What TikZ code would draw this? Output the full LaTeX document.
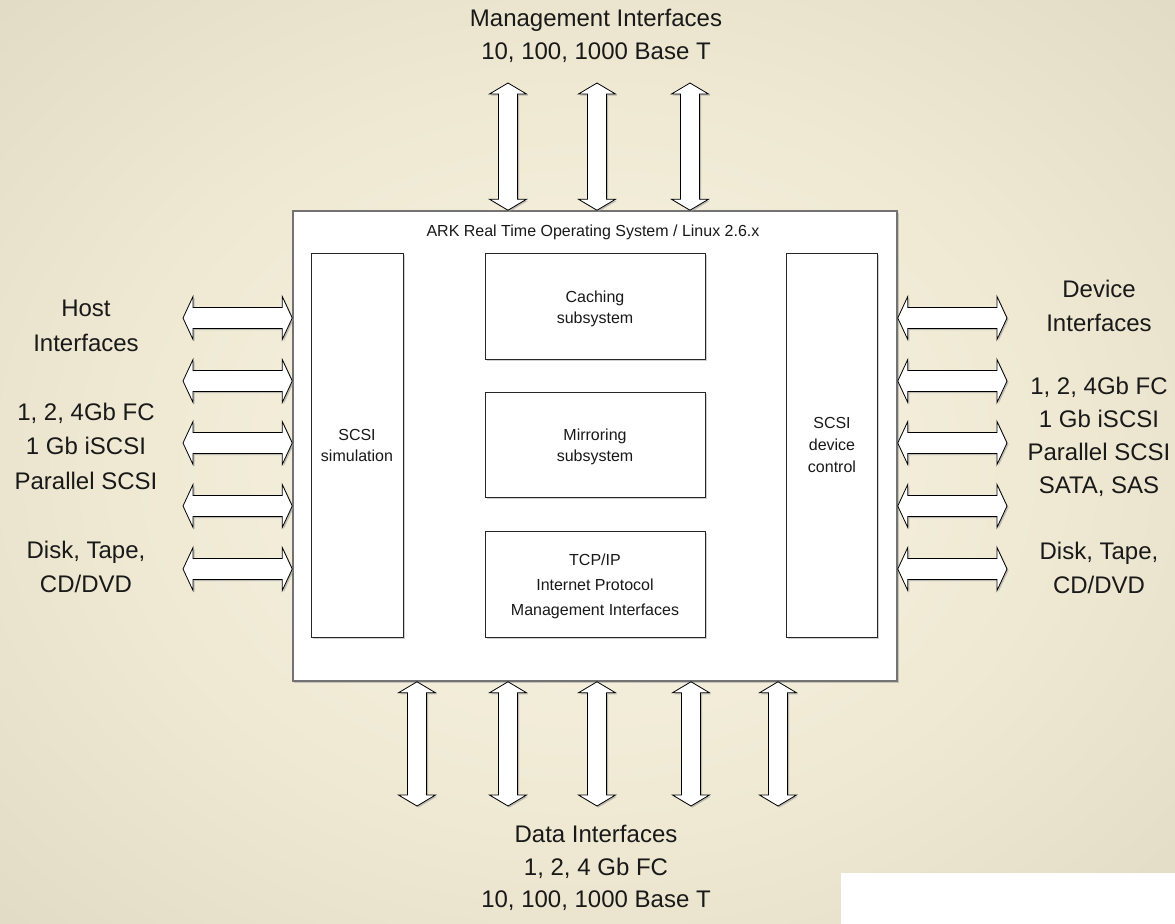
\documentclass[tikz,border=0pt]{standalone}
\usepackage{fontspec}
\setmainfont{Liberation Sans}
\usetikzlibrary{positioning, calc, shadows}

\definecolor{bgA}{RGB}{248,244,228}
\definecolor{bgB}{RGB}{239,233,211}
\definecolor{bgC}{RGB}{213,207,186}
\definecolor{bgD}{RGB}{180,175,153}
\pgfdeclareradialshading{bgglow}{\pgfpoint{0bp}{0bp}}{color(0bp)=(bgA); color(20bp)=(bgB); color(50bp)=(bgC); color(71bp)=(bgD)}

% block arrows: top tip -> bottom tip, left tip -> right tip
\newcommand{\vbus}[2]{%
  \draw[bus] let \p1=(#1), \p2=(#2) in
    (\p1) -- ++(18.5bp,-11bp) -- ++(-9bp,0bp) -- (\x1+9.5bp,\y2+11bp)
    -- ++(9bp,0bp) -- (\p2) -- ++(-18.5bp,11bp) -- ++(9bp,0bp)
    -- (\x1-9.5bp,\y1-11bp) -- ++(-9bp,0bp) -- cycle;}
\newcommand{\hbus}[2]{%
  \draw[bus] let \p1=(#1), \p2=(#2) in
    (\p1) -- ++(10bp,21.5bp) -- ++(0bp,-11bp) -- (\x2-10bp,\y1+10.5bp)
    -- ++(0bp,11bp) -- (\p2) -- ++(-10bp,-21.5bp) -- ++(0bp,11bp)
    -- (\x1+10bp,\y1-10.5bp) -- ++(0bp,-11bp) -- cycle;}

\begin{document}
\begin{tikzpicture}[
    x=1bp, y=-1bp,
    biglbl/.style={align=center, text=black!90,
                   font=\fontsize{24bp}{32.5bp}\selectfont},
    sidelbl/.style={biglbl, font=\fontsize{24bp}{34.5bp}\selectfont},
    smalltxt/.style={align=center, text=black!90,
                     font=\fontsize{16bp}{21bp}\selectfont},
    sysbox/.style={draw=black!55, line width=1.5bp, fill=white,
                   drop shadow={shadow xshift=1.5bp, shadow yshift=-1.5bp, fill=black!35, opacity=.6}},
    subbox/.style={smalltxt, draw=black!85, line width=0.9bp, fill=white, inner sep=0pt,
                   drop shadow={shadow xshift=1.5bp, shadow yshift=-1.5bp, fill=black!30, opacity=.6}},
    bus/.style={draw=black, fill=white, line width=0.8bp, line join=miter,
                drop shadow={shadow xshift=1.5bp, shadow yshift=-1.5bp, fill=black!40, opacity=.6}},
]
\useasboundingbox (0,0) rectangle (1175,924);
%% -- background --
\fill[shading=bgglow] (0,0) rectangle (1175,924);
\fill[white] (841,873) rectangle (1175,924);

%% -- System box and its parts --
\node[sysbox, minimum width=604bp, minimum height=470bp] (sys) at (595,446) {};
\node[smalltxt] (rtos) at (593,232) {ARK Real Time Operating System / Linux 2.6.x};
\node[subbox, minimum width=92bp, minimum height=384bp] (sim) at (357,445) {SCSI\\simulation};
\node[subbox, minimum width=91bp, minimum height=384bp,
      font=\fontsize{16bp}{22bp}\selectfont] (dev) at (832,445) {SCSI\\device\\control};
\node[subbox, minimum width=220bp, minimum height=106bp] (cache) at (595,306) {\rule{0pt}{17bp}Caching\\subsystem};
\node[subbox, minimum width=220bp, minimum height=105bp] (mirror) at (595,444.5) {\rule{0pt}{17bp}Mirroring\\subsystem};
\node[subbox, minimum width=220bp, minimum height=106bp,
      font=\fontsize{16bp}{25bp}\selectfont] (tcp) at (595,584) {\rule{0pt}{17bp}TCP/IP\\Internet Protocol\\Management Interfaces};

%% -- Labels outside --
\node[biglbl] (mgmt) at (596,36) {Management Interfaces\\10, 100, 1000 Base T};
\node[biglbl] (data) at (596,868) {Data Interfaces\\1, 2, 4 Gb FC\\10, 100, 1000 Base T};
\node[sidelbl] (host) at (86,326) {Host\\Interfaces};
\node[sidelbl] (hostif) at (86,446) {1, 2, 4Gb FC\\1 Gb iSCSI\\Parallel SCSI};
\node[sidelbl] (hostmed) at (86,567) {Disk, Tape,\\CD/DVD};
\node[sidelbl] (devlbl) at (1099,306) {Device\\Interfaces};
\node[sidelbl, font=\fontsize{24bp}{33bp}\selectfont] (devif) at (1099,437) {1, 2, 4Gb FC\\1 Gb iSCSI\\Parallel SCSI\\SATA, SAS};
\node[sidelbl] (devmed) at (1099,568) {Disk, Tape,\\CD/DVD};

%% -- Management arrows (top) --
\foreach \bx in {508,597,690}{
  \coordinate (m\bx) at (\bx,83);
  \vbus{m\bx}{sys.north -| \bx,0}
}
%% -- Data arrows (bottom) --
\foreach \bx in {417,508,597,691,778}{
  \coordinate (d\bx) at (\bx,806);
  \vbus{sys.south -| \bx,0}{d\bx}
}
%% -- Host arrows (left) and device arrows (right) --
\foreach \by in {318,381,443,506,569}{
  \coordinate (h\by) at (183,\by);
  \hbus{h\by}{sys.west |- 0,\by}
  \coordinate (v\by) at (1007,\by);
  \hbus{sys.east |- 0,\by}{v\by}
}
\end{tikzpicture}
\end{document}
